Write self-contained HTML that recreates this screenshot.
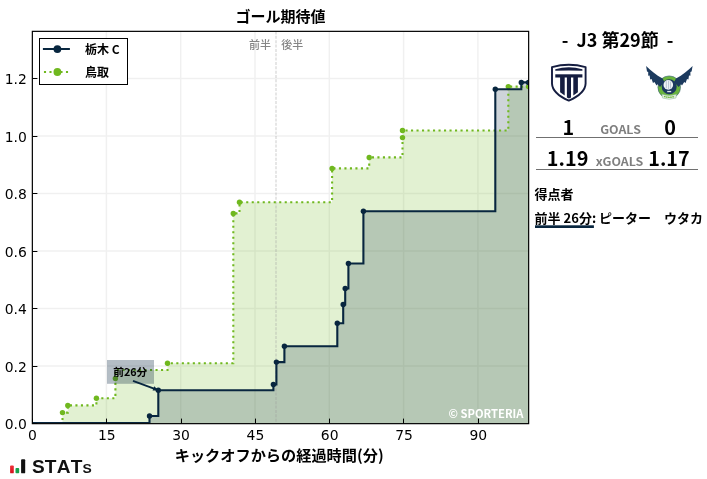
<!DOCTYPE html>
<html lang="ja"><head><meta charset="utf-8"><title>ゴール期待値</title>
<style>
html,body{margin:0;padding:0;background:#fff;}
body{width:707px;height:479px;overflow:hidden;}
svg{display:block;}
text{font-family:"Liberation Sans","Noto Sans CJK JP",sans-serif;}
.dj{font-family:"DejaVu Sans","Liberation Sans",sans-serif;font-size:13.9px;fill:#000;}
.jp{font-family:"Noto Sans CJK JP","Liberation Sans",sans-serif;}
</style></head><body>
<svg width="707" height="479" viewBox="0 0 707 479">
<rect width="707" height="479" fill="#fff"/>
<defs><clipPath id="ax"><rect x="32.5" y="31.5" width="496.0" height="391.5"/></clipPath></defs>

<g stroke="#000" stroke-width="1.5" opacity="0.055">
<line x1="106.4" x2="106.4" y1="31.5" y2="423.5"/>
<line x1="180.7" x2="180.7" y1="31.5" y2="423.5"/>
<line x1="255.0" x2="255.0" y1="31.5" y2="423.5"/>
<line x1="329.3" x2="329.3" y1="31.5" y2="423.5"/>
<line x1="403.6" x2="403.6" y1="31.5" y2="423.5"/>
<line x1="477.9" x2="477.9" y1="31.5" y2="423.5"/>
<line x1="32.5" x2="528.5" y1="365.9" y2="365.9"/>
<line x1="32.5" x2="528.5" y1="308.5" y2="308.5"/>
<line x1="32.5" x2="528.5" y1="251.0" y2="251.0"/>
<line x1="32.5" x2="528.5" y1="193.6" y2="193.6"/>
<line x1="32.5" x2="528.5" y1="136.1" y2="136.1"/>
<line x1="32.5" x2="528.5" y1="78.6" y2="78.6"/>
</g>
<g clip-path="url(#ax)">
<path d="M32.5,423.0 H62.5 V412.6 H67.8 V405.4 H96.4 V398.3 H115.4 V378.5 H115.4 V370.0 H167.5 V363.3 H233.3 V213.4 H239.5 V202.2 H332.1 V168.4 H369.2 V157.4 H402.5 V137.6 H402.5 V130.5 H508.3 V86.6 H528.5 V86.6 V423.0 Z" fill="#70b81f" fill-opacity="0.2"/>
<path d="M32.5,423.0 H149.5 V416.0 H158.3 V390.3 H273.4 V384.5 H276.4 V362.1 H284.4 V346.2 H337.3 V323.3 H343.2 V304.5 H345.2 V288.5 H348.4 V263.5 H363.4 V211.3 H495.3 V89.2 H521.3 V82.4 H528.5 V82.4 V423.0 Z" fill="#08263f" fill-opacity="0.2"/>
<line x1="276" x2="276" y1="31.5" y2="423.5" stroke="#999" stroke-opacity="0.45" stroke-width="1.1" stroke-dasharray="3,1.35"/>
<path d="M32.5,423.0 H62.5 V412.6 H67.8 V405.4 H96.4 V398.3 H115.4 V378.5 H115.4 V370.0 H167.5 V363.3 H233.3 V213.4 H239.5 V202.2 H332.1 V168.4 H369.2 V157.4 H402.5 V137.6 H402.5 V130.5 H508.3 V86.6 H528.5 V86.6" fill="none" stroke="#70b81f" stroke-width="2.1" stroke-dasharray="2.1,3.4"/>
<circle cx="62.5" cy="412.6" r="2.7" fill="#70b81f"/><circle cx="67.8" cy="405.4" r="2.7" fill="#70b81f"/><circle cx="96.4" cy="398.3" r="2.7" fill="#70b81f"/><circle cx="115.4" cy="378.5" r="2.7" fill="#70b81f"/><circle cx="167.5" cy="363.3" r="2.7" fill="#70b81f"/><circle cx="233.3" cy="213.4" r="2.7" fill="#70b81f"/><circle cx="239.5" cy="202.2" r="2.7" fill="#70b81f"/><circle cx="332.1" cy="168.4" r="2.7" fill="#70b81f"/><circle cx="369.2" cy="157.4" r="2.7" fill="#70b81f"/><circle cx="402.5" cy="137.6" r="2.7" fill="#70b81f"/><circle cx="402.5" cy="130.5" r="2.7" fill="#70b81f"/><circle cx="508.3" cy="86.6" r="2.7" fill="#70b81f"/><circle cx="528.5" cy="86.6" r="2.7" fill="#70b81f"/>
<path d="M32.5,423.0 H149.5 V416.0 H158.3 V390.3 H273.4 V384.5 H276.4 V362.1 H284.4 V346.2 H337.3 V323.3 H343.2 V304.5 H345.2 V288.5 H348.4 V263.5 H363.4 V211.3 H495.3 V89.2 H521.3 V82.4 H528.5 V82.4" fill="none" stroke="#08263f" stroke-width="2.1" stroke-linejoin="miter"/>
<circle cx="149.5" cy="416.0" r="2.7" fill="#08263f"/><circle cx="158.3" cy="390.3" r="2.7" fill="#08263f"/><circle cx="273.4" cy="384.5" r="2.7" fill="#08263f"/><circle cx="276.4" cy="362.1" r="2.7" fill="#08263f"/><circle cx="284.4" cy="346.2" r="2.7" fill="#08263f"/><circle cx="337.3" cy="323.3" r="2.7" fill="#08263f"/><circle cx="343.2" cy="304.5" r="2.7" fill="#08263f"/><circle cx="345.2" cy="288.5" r="2.7" fill="#08263f"/><circle cx="348.4" cy="263.5" r="2.7" fill="#08263f"/><circle cx="363.4" cy="211.3" r="2.7" fill="#08263f"/><circle cx="495.3" cy="89.2" r="2.7" fill="#08263f"/><circle cx="521.3" cy="82.4" r="2.7" fill="#08263f"/><circle cx="528.5" cy="82.4" r="2.7" fill="#08263f"/>
</g>
<text class="jp" x="271" y="49.3" font-size="11" font-weight="500" fill="#858585" text-anchor="end">前半</text>
<text class="jp" x="281.3" y="49.3" font-size="11" font-weight="500" fill="#858585">後半</text>
<rect x="107" y="360" width="47" height="23.8" fill="#08263f" fill-opacity="0.3"/>
<line x1="133" y1="380.8" x2="156" y2="389.4" stroke="#08263f" stroke-width="1.8"/>
<path d="M158.6,390.4 L152.6,390.6 L154.2,386.3 Z" fill="#08263f"/>
<text class="jp" x="130.3" y="375.8" font-size="10.7" font-weight="700" fill="#000" text-anchor="middle">前26分</text>
<text class="jp" x="523.4" y="418" font-size="11.2" font-weight="700" fill="#fff" text-anchor="end">© SPORTERIA</text>
<rect x="32.35" y="31.35" width="496.3" height="392.3" fill="none" stroke="#000" stroke-width="1.2"/>
<g stroke="#000" stroke-width="1">
<line x1="32.5" x2="32.5" y1="423.5" y2="418.6"/>
<line x1="106.5" x2="106.5" y1="423.5" y2="418.6"/>
<line x1="181.5" x2="181.5" y1="423.5" y2="418.6"/>
<line x1="255.5" x2="255.5" y1="423.5" y2="418.6"/>
<line x1="329.5" x2="329.5" y1="423.5" y2="418.6"/>
<line x1="403.5" x2="403.5" y1="423.5" y2="418.6"/>
<line x1="478.5" x2="478.5" y1="423.5" y2="418.6"/>
<line x1="32.5" x2="37.4" y1="423.5" y2="423.5"/>
<line x1="32.5" x2="37.4" y1="366.5" y2="366.5"/>
<line x1="32.5" x2="37.4" y1="308.5" y2="308.5"/>
<line x1="32.5" x2="37.4" y1="251.5" y2="251.5"/>
<line x1="32.5" x2="37.4" y1="193.5" y2="193.5"/>
<line x1="32.5" x2="37.4" y1="136.5" y2="136.5"/>
<line x1="32.5" x2="37.4" y1="78.5" y2="78.5"/>
</g>
<text class="dj" x="32.5" y="439.9" text-anchor="middle">0</text>
<text class="dj" x="106.8" y="439.9" text-anchor="middle">15</text>
<text class="dj" x="181.1" y="439.9" text-anchor="middle">30</text>
<text class="dj" x="255.4" y="439.9" text-anchor="middle">45</text>
<text class="dj" x="329.7" y="439.9" text-anchor="middle">60</text>
<text class="dj" x="404.0" y="439.9" text-anchor="middle">75</text>
<text class="dj" x="478.3" y="439.9" text-anchor="middle">90</text>
<text class="dj" x="26.8" y="428.8" text-anchor="end">0.0</text>
<text class="dj" x="26.8" y="371.8" text-anchor="end">0.2</text>
<text class="dj" x="26.8" y="313.8" text-anchor="end">0.4</text>
<text class="dj" x="26.8" y="256.8" text-anchor="end">0.6</text>
<text class="dj" x="26.8" y="198.8" text-anchor="end">0.8</text>
<text class="dj" x="26.8" y="141.8" text-anchor="end">1.0</text>
<text class="dj" x="26.8" y="83.8" text-anchor="end">1.2</text>
<text class="jp" x="280.4" y="22.2" font-size="15" font-weight="700" text-anchor="middle">ゴール期待値</text>
<text class="jp" x="279.2" y="461.4" font-size="15.2" font-weight="700" text-anchor="middle">キックオフからの経過時間(分)</text>
<rect x="39.5" y="38.5" width="88" height="46" fill="#fff" stroke="#000" stroke-width="1"/>
<line x1="42.9" x2="69.9" y1="49" y2="49" stroke="#08263f" stroke-width="2"/><circle cx="57.4" cy="49.1" r="3.9" fill="#08263f"/>
<line x1="43.95" x2="69.9" y1="71.9" y2="71.9" stroke="#70b81f" stroke-width="2" stroke-dasharray="2.1,3.4"/><circle cx="57.4" cy="72" r="3.9" fill="#70b81f"/>
<text class="jp" x="85" y="53.8" font-size="12" font-weight="700">栃木 C</text>
<text class="jp" x="85" y="76.6" font-size="12" font-weight="700">鳥取</text>
<text class="jp" x="617.6" y="46.6" font-size="18" font-weight="700" text-anchor="middle" xml:space="preserve">-  J3 第29節  -</text>
<g>
<path d="M552,67.1 Q568.8,62.4 585.6,67.1 V83.6 Q585.2,93.4 568.8,100.6 Q552.4,93.4 552,83.6 Z" fill="#fff" stroke="#151d40" stroke-width="1.9" stroke-linejoin="round"/>
<path d="M555.3,70.8 L555.3,69.3 Q568.8,65.2 582.4,69.3 L582.4,70.8 Q568.8,70.1 555.3,70.8 Z" fill="#151d40"/>
<rect x="555.3" y="74.3" width="27.1" height="3.2" fill="#151d40"/>
<path d="M560.1,77 h4.6 v18.4 l-4.6,-3.2 Z" fill="#151d40"/>
<path d="M566.9,77 h4.1 v20.6 l-2.05,1 l-2.05,-1 Z" fill="#151d40"/>
<path d="M573.3,77 h4.6 v15.2 l-4.6,3.2 Z" fill="#151d40"/>
</g>
<g>
<circle cx="669.2" cy="87.2" r="11.3" fill="#6ab53c" stroke="#3b5f7a" stroke-width="0.6"/>
<path d="M646.1,66 C650.5,70.5 656,75 662.6,78.4 L664.5,82 L660,87 L657.6,84.2 L656.6,85.4 L654.4,82 L653,83 L651.6,79 L650.2,79.6 L649.6,75.6 L648.2,75.8 L648.2,72 L647,71.6 Z" fill="#1c3a5e"/>
<path d="M692.6,66 C688.2,70.5 682.6,75 676,78.4 L674,82 L678.6,87 L681,84.2 L682,85.4 L684.2,82 L685.6,83 L687,79 L688.4,79.6 L689,75.6 L690.4,75.8 L690.4,72 L691.6,71.6 Z" fill="#1c3a5e"/>
<circle cx="669.2" cy="86.8" r="7.5" fill="#1c3a5e"/>
<circle cx="668.3" cy="84.9" r="4.8" fill="#f2f5f7"/>
<path d="M666.3,81.2 v7.2 M668.6,80.6 v8.8 M670.6,81.6 v7" stroke="#9fb0c0" stroke-width="0.7" fill="none"/>
<rect x="667.2" y="90.9" width="4" height="1.3" fill="#dfe6ec"/>
<path d="M662,94.2 Q669.2,97 676.4,94.2 L676,98 Q669.2,100.6 662.4,98 Z" fill="#e4f1dc" stroke="#8fb8a0" stroke-width="0.5"/>
<path d="M664,96.4 Q669.2,98.2 674.4,96.4" stroke="#6ab53c" stroke-width="1.3" fill="none" stroke-dasharray="1.6,0.5"/>
</g>
<text class="jp" x="568.4" y="134.6" font-size="19.8" font-weight="700" text-anchor="middle">1</text>
<text class="jp" x="670" y="134.6" font-size="19.8" font-weight="700" text-anchor="middle">0</text>
<text class="jp" transform="translate(620.5,134.1) scale(1.127,1)" font-size="11" font-weight="700" fill="#7f7f7f" text-anchor="middle">GOALS</text>
<line x1="536" x2="698" y1="137.5" y2="137.5" stroke="#707070" stroke-width="1"/>
<text class="jp" x="567.6" y="166" font-size="19.8" font-weight="700" text-anchor="middle">1.19</text>
<text class="jp" x="669" y="166" font-size="19.8" font-weight="700" text-anchor="middle">1.17</text>
<text class="jp" transform="translate(619.5,165.6) scale(1.127,1)" font-size="11" font-weight="700" fill="#7f7f7f" text-anchor="middle">xGOALS</text>
<line x1="536" x2="698" y1="169.5" y2="169.5" stroke="#707070" stroke-width="1"/>
<text class="jp" x="534.6" y="199.4" font-size="13" font-weight="700">得点者</text>
<text class="jp" x="534.6" y="223.4" font-size="13" font-weight="700" xml:space="preserve">前半 26分: ピーター　ウタカ</text>
<rect x="535" y="225.3" width="58.9" height="2.7" fill="#08263f"/>
<defs><linearGradient id="rg" x1="0" y1="0" x2="0" y2="1"><stop offset="0" stop-color="#f0323a"/><stop offset="1" stop-color="#d4101c"/></linearGradient></defs>
<rect x="10.1" y="465.4" width="3.7" height="7.9" rx="0.9" fill="url(#rg)"/>
<rect x="15.5" y="468.1" width="3.7" height="5.2" rx="0.8" fill="#19a04b"/>
<rect x="21.1" y="459.3" width="4.1" height="14" rx="0.9" fill="#111"/>
<text transform="translate(31.9,473.2) scale(1.06,1)" font-family="&quot;Liberation Sans&quot;,sans-serif" font-weight="700" font-size="18" fill="#111" style="font-kerning:none" letter-spacing="0.2">STAT<tspan font-size="13.1">S</tspan></text>
</svg></body></html>
